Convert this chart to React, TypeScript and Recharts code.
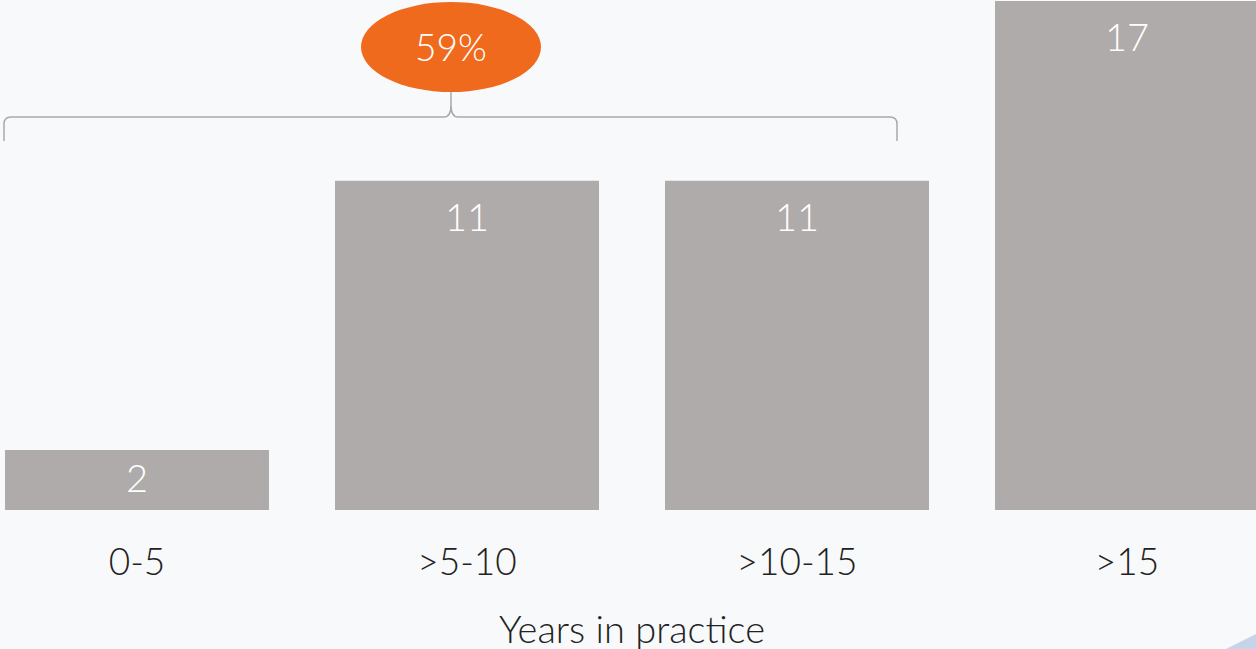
import { BarChart, Bar, XAxis, YAxis, LabelList } from "recharts";

const categories = ["0-5", ">5-10", ">10-15", ">15"];
const counts = [2, 11, 11, 17];
const axisTitle = "Years in practice";
const shareLabel = "59%";

const data = categories.map((c, i) => ({ name: c, value: counts[i] }));

const FONT = "Lato, 'Open Sans', sans-serif";
const BG = "#f8f9fb";

function ValueLabel(props: any) {
  const { x, y, width, height, value } = props;
  const cy = Math.min(y + 35, y + height / 2 - 3);
  return (
    <text
      x={x + width / 2}
      y={cy}
      fill="#ffffff"
      fontSize={38}
      fontWeight={300}
      fontFamily={FONT}
      textAnchor="middle"
      dominantBaseline="central"
    >
      {value}
    </text>
  );
}

function CategoryTick(props: any) {
  const { x, y, payload } = props;
  return (
    <text
      x={x}
      y={y + 42}
      fill="#222222"
      fontSize={37}
      fontWeight={300}
      fontFamily={FONT}
      textAnchor="middle"
      dominantBaseline="central"
    >
      {payload.value}
    </text>
  );
}

export default function App() {
  return (
    <div
      style={{
        position: "fixed",
        left: 0,
        top: 0,
        width: 1256,
        height: 649,
        overflow: "hidden",
        background: BG,
      }}
    >
      <style>{`html,body{margin:0;padding:0;background:${BG};}`}</style>
      <div style={{ position: "absolute", left: -28, top: 0 }}>
        <BarChart
          width={1320}
          height={649}
          data={data}
          margin={{ top: 1, right: 0, bottom: 0, left: 0 }}
          barCategoryGap="10%"
        >
          <XAxis
            dataKey="name"
            axisLine={false}
            tickLine={false}
            height={139}
            tick={<CategoryTick />}
            interval={0}
            label={{
              value: axisTitle,
              position: "insideBottom",
              offset: 6,
              fill: "#222222",
              fontSize: 38,
              fontWeight: 300,
              fontFamily: FONT,
            }}
          />
          <YAxis hide domain={[0, 17]} />
          <Bar dataKey="value" fill="#afabaa" isAnimationActive={false}>
            <LabelList dataKey="value" content={<ValueLabel />} />
          </Bar>
        </BarChart>
      </div>
      {/* brace + share bubble annotation */}
      <svg
        width={1256}
        height={649}
        style={{ position: "absolute", left: 0, top: 0, pointerEvents: "none" }}
      >
        <path
          d="M 4 141 L 4 124 Q 4 117 11 117 L 444 117 Q 451 117 451 105 L 451 92 M 897 141 L 897 124 Q 897 117 890 117 L 458 117 Q 451 117 451 105"
          fill="none"
          stroke="#a9a9a9"
          strokeWidth={1.5}
        />
        <ellipse cx={451} cy={47} rx={90} ry={45} fill="#f06a1e" />
        <text
          x={451}
          y={46}
          fill="#ffffff"
          fontSize={37}
          fontWeight={300}
          fontFamily={FONT}
          textAnchor="middle"
          dominantBaseline="central"
        >
          {shareLabel}
        </text>
        <polygon points="1226,649 1256,634 1256,649" fill="#c6d4ea" />
      </svg>
    </div>
  );
}
